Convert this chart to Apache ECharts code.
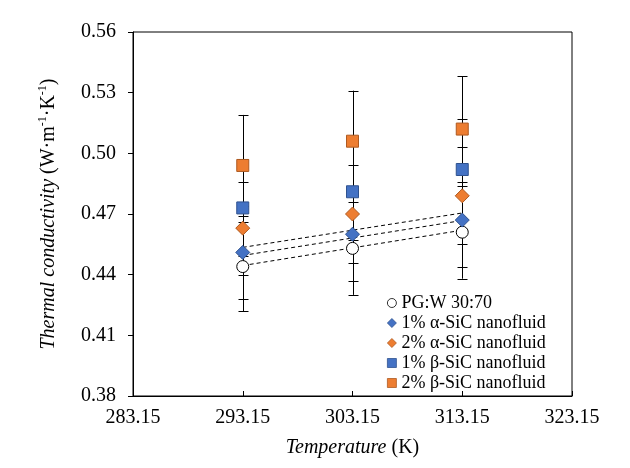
<!DOCTYPE html>
<html>
<head>
<meta charset="utf-8">
<script src="https://cdn.jsdelivr.net/npm/echarts@6/dist/echarts.min.js"></script>
<style>html,body{margin:0;padding:0;background:#fff;}#c{width:630px;height:468px;}</style>
</head>
<body>
<div id="c"></div>
<script>
// ---- data ----
const temperatures = [293.15, 303.15, 313.15];
const xTickLabels = ['283.15', '293.15', '303.15', '313.15', '323.15'];
const yTickLabels = ['0.38', '0.41', '0.44', '0.47', '0.50', '0.53', '0.56'];

const pgW    = [0.444, 0.453, 0.461];
const alpha1 = [0.451, 0.460, 0.467];
const alpha2 = [0.463, 0.470, 0.479];
const beta1  = [0.473, 0.481, 0.492];
const beta2  = [0.494, 0.506, 0.512];

const pgWErr    = [0.022, 0.023, 0.023];
const alpha1Err = [0.023, 0.023, 0.023];
const alpha2Err = [0.023, 0.024, 0.024];
const beta1Err  = [0.024, 0.024, 0.025];
const beta2Err  = [0.025, 0.025, 0.026];

const trendTemps = [293.15, 313.15];
const trendA = [0.4535, 0.4705];
const trendB = [0.4495, 0.4668];
const trendC = [0.4445, 0.4620];

const seriesNames = ['PG:W 30:70', '1% \u03b1-SiC nanofluid', '2% \u03b1-SiC nanofluid', '1% \u03b2-SiC nanofluid', '2% \u03b2-SiC nanofluid'];

// axis origin offsets so that ticks start exactly at the axis minimum
const X0 = 283.15, Y0 = 0.38;
const FONT = 'Liberation Serif';

const pts = (ys) => temperatures.map((t, i) => [t - X0, ys[i] - Y0]);
const trend = (ys) => trendTemps.map((t, i) => [t - X0, ys[i] - Y0]);

const allVals = [pgW, alpha1, alpha2, beta1, beta2];
const allErr = [pgWErr, alpha1Err, alpha2Err, beta1Err, beta2Err];
const errData = [];
allVals.forEach((vals, s) => vals.forEach((v, i) => {
  errData.push([temperatures[i] - X0, v - allErr[s][i] - Y0, v + allErr[s][i] - Y0]);
}));

const blue = '#4472C4', blueB = '#2F528F', orange = '#ED7D31', orangeB = '#AE5A21';

const chart = echarts.init(document.getElementById('c'), null, {renderer: 'canvas'});
chart.setOption({
  backgroundColor: '#ffffff',
  animation: false,
  textStyle: {fontFamily: FONT},
  grid: {left: 133, right: 58, top: 32, bottom: 72, show: true, borderColor: '#000', borderWidth: 1, containLabel: false},
  xAxis: {
    type: 'value', min: 0, max: 40, interval: 10,
    axisLine: {show: true, lineStyle: {color: '#000', width: 1}},
    axisTick: {show: true, inside: true, length: 5, lineStyle: {color: '#000'}},
    axisLabel: {color: '#000', fontSize: 20, fontFamily: FONT, margin: 12,
      formatter: (v) => xTickLabels[Math.round(v / 10)]},
    splitLine: {show: false},
    name: '{i|Temperature} {n|(K)}', nameLocation: 'middle', nameGap: 42,
    nameTextStyle: {color: '#000', fontFamily: FONT, fontSize: 20,
      rich: {i: {fontStyle: 'italic', fontSize: 20, fontFamily: FONT, color: '#000'}, n: {fontSize: 20, fontFamily: FONT, color: '#000'}}}
  },
  yAxis: {
    type: 'value', min: 0, max: 0.18, interval: 0.03,
    axisLine: {show: true, lineStyle: {color: '#000', width: 1}},
    axisTick: {show: true, inside: false, length: 5, lineStyle: {color: '#000'}},
    axisLabel: {color: '#000', fontSize: 20, fontFamily: FONT, margin: 17,
      formatter: (v) => yTickLabels[Math.round(v / 0.03)]},
    splitLine: {show: false},
    name: '{i|Thermal conductivity} {n|(W\u00b7m}{s|-1}{n|\u00b7K}{s|-1}{n|)}',
    nameLocation: 'middle', nameGap: 72, nameRotate: 90,
    nameTextStyle: {color: '#000', fontFamily: FONT, fontSize: 20, lineHeight: 24,
      rich: {
        i: {fontStyle: 'italic', fontSize: 20, fontFamily: FONT, color: '#000', lineHeight: 24},
        n: {fontSize: 20, fontFamily: FONT, color: '#000', lineHeight: 24},
        s: {fontSize: 12, fontFamily: FONT, color: '#000', verticalAlign: 'top', lineHeight: 14}
      }}
  },
  legend: {
    orient: 'vertical', left: 382, top: 289,
    itemWidth: 9, itemHeight: 9, itemGap: 2,
    textStyle: {color: '#000', fontSize: 18, fontFamily: FONT, lineHeight: 18},
    data: [
      {name: seriesNames[0], itemStyle: {borderWidth: 0.8}},
      {name: seriesNames[1], itemStyle: {borderWidth: 0.8}},
      {name: seriesNames[2], itemStyle: {borderWidth: 0.8}},
      {name: seriesNames[3], itemStyle: {borderWidth: 0.8}},
      {name: seriesNames[4], itemStyle: {borderWidth: 0.8}}
    ]
  },
  series: [
    {type: 'line', data: trend(trendA), symbol: 'none', silent: true, z: 1,
      lineStyle: {color: '#000', width: 1, type: [4, 3]}},
    {type: 'line', data: trend(trendB), symbol: 'none', silent: true, z: 1,
      lineStyle: {color: '#000', width: 1, type: [4, 3]}},
    {type: 'line', data: trend(trendC), symbol: 'none', silent: true, z: 1,
      lineStyle: {color: '#000', width: 1, type: [4, 3]}},
    {
      type: 'custom', z: 2, silent: true, data: errData,
      renderItem: function (params, api) {
        const x = api.value(0);
        const lo = api.coord([x, api.value(1)]);
        const hi = api.coord([x, api.value(2)]);
        const cx = Math.round(lo[0]) + 0.5;
        const w = 5;
        const style = {stroke: '#000', lineWidth: 1, fill: null};
        return {type: 'group', children: [
          {type: 'line', shape: {x1: cx, y1: lo[1], x2: cx, y2: hi[1]}, style: style},
          {type: 'line', shape: {x1: cx - w, y1: Math.round(lo[1]) + 0.5, x2: cx + w, y2: Math.round(lo[1]) + 0.5}, style: style},
          {type: 'line', shape: {x1: cx - w, y1: Math.round(hi[1]) + 0.5, x2: cx + w, y2: Math.round(hi[1]) + 0.5}, style: style}
        ]};
      }
    },
    {name: seriesNames[0], type: 'scatter', z: 5, data: pts(pgW), symbol: 'circle', symbolSize: 12,
      itemStyle: {color: '#ffffff', borderColor: '#000', borderWidth: 1, opacity: 1}},
    {name: seriesNames[1], type: 'scatter', z: 5, data: pts(alpha1), symbol: 'diamond', symbolSize: 14,
      itemStyle: {color: blue, borderColor: blueB, borderWidth: 1, opacity: 1}},
    {name: seriesNames[2], type: 'scatter', z: 5, data: pts(alpha2), symbol: 'diamond', symbolSize: 14,
      itemStyle: {color: orange, borderColor: orangeB, borderWidth: 1, opacity: 1}},
    {name: seriesNames[3], type: 'scatter', z: 5, data: pts(beta1), symbol: 'rect', symbolSize: 12,
      itemStyle: {color: blue, borderColor: blueB, borderWidth: 1, opacity: 1}},
    {name: seriesNames[4], type: 'scatter', z: 5, data: pts(beta2), symbol: 'rect', symbolSize: 12,
      itemStyle: {color: orange, borderColor: orangeB, borderWidth: 1, opacity: 1}}
  ]
});
</script>
</body>
</html>
